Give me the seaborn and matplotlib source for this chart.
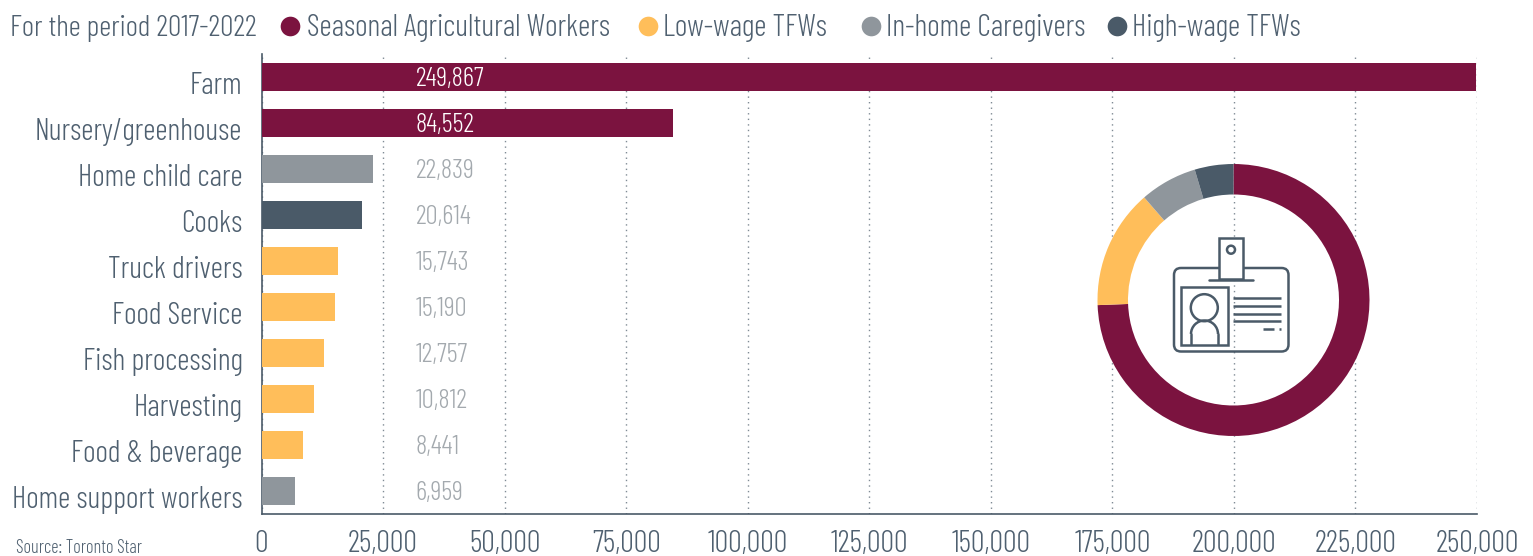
import matplotlib
matplotlib.use("Agg")
import matplotlib.pyplot as plt
from matplotlib import font_manager as fm
from matplotlib.patches import Circle, FancyBboxPatch, Rectangle, Arc
from matplotlib.transforms import ScaledTranslation
import pandas as pd
import seaborn as sns

categories = ["Farm", "Nursery/greenhouse", "Home child care", "Cooks", "Truck drivers",
              "Food Service", "Fish processing", "Harvesting", "Food & beverage",
              "Home support workers"]
values = [249867, 84552, 22839, 20614, 15743, 15190, 12757, 10812, 8441, 6959]
groups = ["Seasonal Agricultural Workers", "Seasonal Agricultural Workers", "In-home Caregivers",
          "High-wage TFWs", "Low-wage TFWs", "Low-wage TFWs", "Low-wage TFWs", "Low-wage TFWs",
          "Low-wage TFWs", "In-home Caregivers"]
legend_names = ["Seasonal Agricultural Workers", "Low-wage TFWs", "In-home Caregivers", "High-wage TFWs"]
shares = [74.4, 14.2, 6.8, 4.6]
xticks = [0, 25000, 50000, 75000, 100000, 125000, 150000, 175000, 200000, 225000, 250000]

MAROON, YELLOW, GRAY, DARK = "#7b133f", "#ffbe5a", "#8f969c", "#4a5a68"
palette = dict(zip(legend_names, [MAROON, YELLOW, GRAY, DARK]))
TEXT = "#4f6070"

W, H = 1533, 556
sns.set_theme(style="white")
avail = {f.name for f in fm.fontManager.ttflist}
FONT = "Barlow Condensed" if "Barlow Condensed" in avail else "Roboto"
plt.rcParams["font.family"] = [FONT, "DejaVu Sans"]
plt.rcParams["font.weight"] = 300

fig = plt.figure(figsize=(W / 100, H / 100), dpi=100, facecolor="white")

def px_axes(x0, y0, x1, y1, **kw):
    return fig.add_axes([x0 / W, 1 - y1 / H, (x1 - x0) / W, (y1 - y0) / H], **kw)

ax = px_axes(261.5, 54, 1477, 514)
df = pd.DataFrame({"cat": categories, "val": values, "group": groups})
sns.barplot(data=df, y="cat", x="val", hue="group", palette=palette, dodge=False,
            width=28 / 46, saturation=1, legend=False, ax=ax, zorder=3, linewidth=0)
ax.set_xlim(0, 250000)
ax.set_ylim(9.5, -0.5)
ax.set_xlabel("")
ax.set_ylabel("")
ax.set_xticks(xticks)
ax.set_xticklabels([f"{v:,}" for v in xticks])
ax.grid(False)
ax.xaxis.grid(True, linestyle=(0, (1, 3)), linewidth=1.0, color="#7f8a94", zorder=0)
ax.set_axisbelow(True)
ax.tick_params(axis="x", length=0, pad=11.5, labelsize=22, labelcolor=TEXT)
ax.tick_params(axis="y", length=0, pad=13.7, labelsize=22, labelcolor=TEXT)
shift = ScaledTranslation(0, -6 / 100, fig.dpi_scale_trans)
for lab in ax.get_yticklabels():
    lab.set_transform(lab.get_transform() + shift)
for s in ["top", "right"]:
    ax.spines[s].set_visible(False)
for s in ["left", "bottom"]:
    ax.spines[s].set_color(DARK)
    ax.spines[s].set_linewidth(1.2)

value_shift = ax.transData + ScaledTranslation(0, -2.5 / 100, fig.dpi_scale_trans)
for i, v in enumerate(values):
    ax.text(31700, i, f"{v:,}", va="center", ha="left", fontsize=19.5, transform=value_shift,
            color="white" if i < 2 else "#a3a9ae", zorder=5)

# donut
dax = px_axes(1233.5 - 136, 300 - 136, 1233.5 + 136, 300 + 136)
dax.patch.set_alpha(0)
dax.pie(shares, colors=[MAROON, YELLOW, GRAY, DARK], startangle=90, counterclock=False,
        radius=1, wedgeprops=dict(width=30.5 / 136, linewidth=0))
dax.set_xlim(-1, 1)
dax.set_ylim(-1, 1)

# overlay in pixel coordinates: badge icon and header
ov = px_axes(0, 0, W, H)
ov.set_xlim(0, W)
ov.set_ylim(H, 0)
ov.axis("off")
ov.patch.set_alpha(0)
lw = 1.8
st = dict(fill=False, edgecolor=DARK, linewidth=lw)
ov.add_patch(FancyBboxPatch((1181, 275), 100.5, 69.5, boxstyle="round,pad=7", **st))
ov.add_patch(Rectangle((1219, 238), 24.3, 41.3, facecolor="white", edgecolor=DARK, linewidth=lw, zorder=4))
ov.plot([1209, 1252.7], [279.5, 279.5], color=DARK, lw=lw, zorder=5)
ov.add_patch(Circle((1231, 249.7), 4, zorder=5, **st))
ov.add_patch(Rectangle((1181.3, 287), 46.4, 57.5, **st))
ov.add_patch(Circle((1204.3, 307.7), 13.5, **st))
ov.add_patch(Arc((1204.5, 334), 27, 27, theta1=180, theta2=360, edgecolor=DARK, linewidth=lw))
ov.plot([1191, 1191], [334, 344], color=DARK, lw=lw)
ov.plot([1218, 1218], [334, 344], color=DARK, lw=lw)
for y in [298.3, 306, 313.7, 321.3]:
    ov.plot([1233.3, 1281], [y, y], color=DARK, lw=lw, solid_capstyle="butt")
ov.plot([1263.3, 1274], [328.7, 328.7], color=DARK, lw=lw, solid_capstyle="butt")
ov.plot([1278.7, 1281], [328.7, 328.7], color=DARK, lw=lw, solid_capstyle="butt")

ov.text(10, 28, "For the period 2017-2022", fontsize=21.5, color=TEXT, va="center", ha="left")
for name, mx, tx in zip(legend_names, [290, 648, 871, 1117], [307, 663, 886, 1132]):
    ov.scatter([mx], [26], s=200, color=palette[name], linewidths=0)
    ov.text(tx, 28, name, fontsize=22, color=TEXT, va="center", ha="left")
ov.text(16, 548, "Source: Toronto Star", fontsize=13.2, color=TEXT, va="center", ha="left")

fig.savefig("out.png", dpi=100, facecolor="white")
